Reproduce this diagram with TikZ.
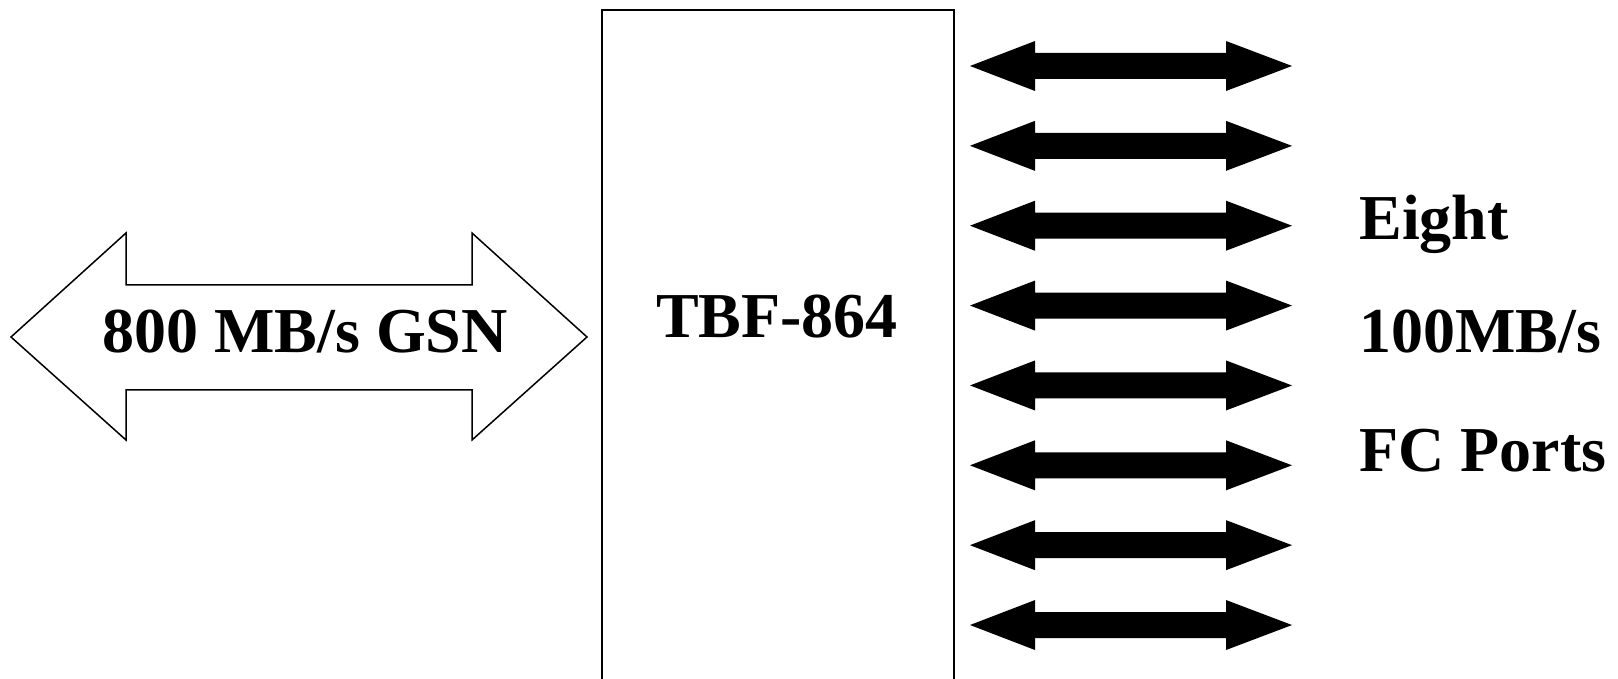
\documentclass[tikz,border=0pt]{standalone}
\usepackage{fontspec}
\setmainfont{Liberation Serif}
\begin{document}
\begin{tikzpicture}[x=0.5pt,y=-0.5pt,
  lbl/.style={inner sep=0pt,font=\fontsize{32}{38}\selectfont\bfseries},
  portarrow/.style={fill=black,draw=none},
  gsnarrow/.style={draw=black,line width=0.75pt,fill=white,line join=miter},
  boxline/.style={draw=black,line width=1pt}]
\useasboundingbox (0,0) rectangle (1618,679);
% central box (continues past the bottom edge)
\draw[boxline] (602,700) -- (602,10) -- (954,10) -- (954,700);
\node[lbl,anchor=base] (tbf) at (777,338) {TBF-864};
% big double arrow
\draw[gsnarrow] (11,337) -- (126,233) -- (126,285) -- (472,285) -- (472,233)
  -- (587,337) -- (472,440) -- (472,390) -- (126,390) -- (126,440) -- cycle;
\node[lbl,anchor=base] (gsn) at (305,352) {800 MB/s GSN};
% eight port arrows
\foreach \i in {0,...,7}{
  \pgfmathsetmacro{\yc}{66+\i*79.86}
  \fill[portarrow] (970,\yc) -- (1035,\yc-25) -- (1035,\yc-13) -- (1226,\yc-13)
    -- (1226,\yc-25) -- (1292,\yc) -- (1226,\yc+25) -- (1226,\yc+13)
    -- (1035,\yc+13) -- (1035,\yc+25) -- cycle;
}
\node[lbl,anchor=base west] (eight) at (1359,240) {Eight};
\node[lbl,anchor=base west] (rate) at (1359,353) {100MB/s};
\node[lbl,anchor=base west] (fc) at (1359,472) {FC Ports};
\end{tikzpicture}
\end{document}
